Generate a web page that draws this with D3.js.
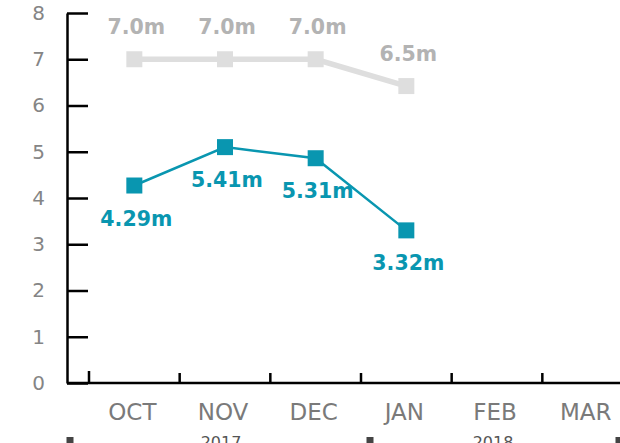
<!DOCTYPE html>
<html>
<head>
<meta charset="utf-8">
<script src="https://cdn.jsdelivr.net/npm/d3@7"></script>
<style>
  body { margin: 0; background: #fff; }
  svg { display: block; font-family: Verdana, "DejaVu Sans", sans-serif; }
</style>
</head>
<body>
<svg id="chart" width="620" height="443"></svg>
<script>
// data
const months = ["OCT", "NOV", "DEC", "JAN", "FEB", "MAR"];
const monthYear = ["2017", "2017", "2017", "2018", "2018", "2018"];
const years = ["2017", "2018"];
const seriesMonths = ["OCT", "NOV", "DEC", "JAN"];
const actualValues = [4.27, 5.10, 4.86, 3.30];
const actualLabels = ["4.29m", "5.41m", "5.31m", "3.32m"];
const targetValues = [7.0, 7.0, 7.0, 6.42];
const targetLabels = ["7.0m", "7.0m", "7.0m", "6.5m"];
const yTicks = [0, 1, 2, 3, 4, 5, 6, 7, 8];

const teal = "#0996b0";
const lightGrey = "#dedede";

const svg = d3.select("#chart");
const W = 620;
const plotLeft = 67, plotTop = 13, plotBottom = 383;

const x = d3.scaleBand().domain(months).range([89, 633]);
const y = d3.scaleLinear().domain([0, 8]).range([plotBottom, plotTop]);
const cx = m => x(m) + x.bandwidth() / 2;

// y axis
const yAxis = svg.append("g")
  .attr("transform", `translate(${plotLeft},0)`)
  .call(d3.axisLeft(y).tickValues(yTicks).tickSize(-21).tickSizeOuter(0).tickPadding(22));
yAxis.select(".domain").attr("stroke", "#000").attr("stroke-width", 2.5);
yAxis.selectAll(".tick line").attr("stroke", "#000").attr("stroke-width", 2.5);
yAxis.selectAll(".tick text")
  .attr("fill", "#858585")
  .style("font-size", "20px")
  .style("font-family", "Verdana, 'DejaVu Sans', sans-serif");

// x axis
const xAxis = svg.append("g");
xAxis.append("line")
  .attr("x1", plotLeft).attr("x2", W)
  .attr("y1", plotBottom).attr("y2", plotBottom)
  .attr("stroke", "#000").attr("stroke-width", 2.5);
xAxis.selectAll(".xt")
  .data(months)
  .enter().append("line")
  .attr("class", "xt")
  .attr("x1", d => x(d)).attr("x2", d => x(d))
  .attr("y1", (d, i) => plotBottom - (i === 0 ? 12 : 10))
  .attr("y2", plotBottom)
  .attr("stroke", "#000").attr("stroke-width", 2.5);
xAxis.selectAll(".xl")
  .data(months)
  .enter().append("text")
  .attr("class", "xl")
  .attr("x", d => cx(d) - 2)
  .attr("y", 420)
  .attr("text-anchor", "middle")
  .attr("fill", "#7a7a7a")
  .style("font-size", "23px")
  .text(d => d);

// year groups (cut by the bottom edge, as in the source)
const yearSpan = yr => {
  const ms = months.filter((m, i) => monthYear[i] === yr);
  return [x(ms[0]), x(ms[ms.length - 1]) + x.bandwidth()];
};
svg.selectAll(".yl")
  .data(years)
  .enter().append("text")
  .attr("class", "yl")
  .attr("x", d => d3.mean(yearSpan(d)) - 4)
  .attr("y", 448)
  .attr("text-anchor", "middle")
  .attr("fill", "#555")
  .style("font-size", "16px")
  .text(d => d);

const separators = [plotLeft + 3, yearSpan(years[1])[0] + 9, W - 1];
svg.selectAll(".sep")
  .data(separators)
  .enter().append("rect")
  .attr("x", d => d - 3.5)
  .attr("y", 437)
  .attr("width", 7)
  .attr("height", 6)
  .attr("fill", "#444");

const target = seriesMonths.map((m, i) => ({ m, v: targetValues[i], label: targetLabels[i] }));
const actual = seriesMonths.map((m, i) => ({ m, v: actualValues[i], label: actualLabels[i] }));

const line = d3.line().x(d => cx(d.m)).y(d => y(d.v));

// target series (grey)
svg.append("path")
  .datum(target)
  .attr("fill", "none")
  .attr("stroke", lightGrey)
  .attr("stroke-width", 5.5)
  .attr("d", line);

svg.selectAll(".tsq")
  .data(target)
  .enter().append("rect")
  .attr("class", "tsq")
  .attr("x", d => cx(d.m) - 8)
  .attr("y", d => y(d.v) - 8)
  .attr("width", 16).attr("height", 16)
  .attr("fill", lightGrey);

svg.selectAll(".tlab")
  .data(target)
  .enter().append("text")
  .attr("class", "tlab")
  .attr("x", d => cx(d.m) + 2)
  .attr("y", d => y(d.v) - 25)
  .attr("text-anchor", "middle")
  .attr("fill", "#b3b3b3")
  .style("font-size", "20.5px")
  .style("font-weight", "bold")
  .text(d => d.label);

// actual series (teal)
svg.append("path")
  .datum(actual)
  .attr("fill", "none")
  .attr("stroke", teal)
  .attr("stroke-width", 2.5)
  .attr("d", line);

svg.selectAll(".asq")
  .data(actual)
  .enter().append("rect")
  .attr("class", "asq")
  .attr("x", d => cx(d.m) - 8)
  .attr("y", d => y(d.v) - 8)
  .attr("width", 16).attr("height", 16)
  .attr("fill", teal);

svg.selectAll(".alab")
  .data(actual)
  .enter().append("text")
  .attr("class", "alab")
  .attr("x", d => cx(d.m) + 2)
  .attr("y", d => y(d.v) + 40)
  .attr("text-anchor", "middle")
  .attr("fill", teal)
  .style("font-size", "20.5px")
  .style("font-weight", "bold")
  .text(d => d.label);
</script>
</body>
</html>
